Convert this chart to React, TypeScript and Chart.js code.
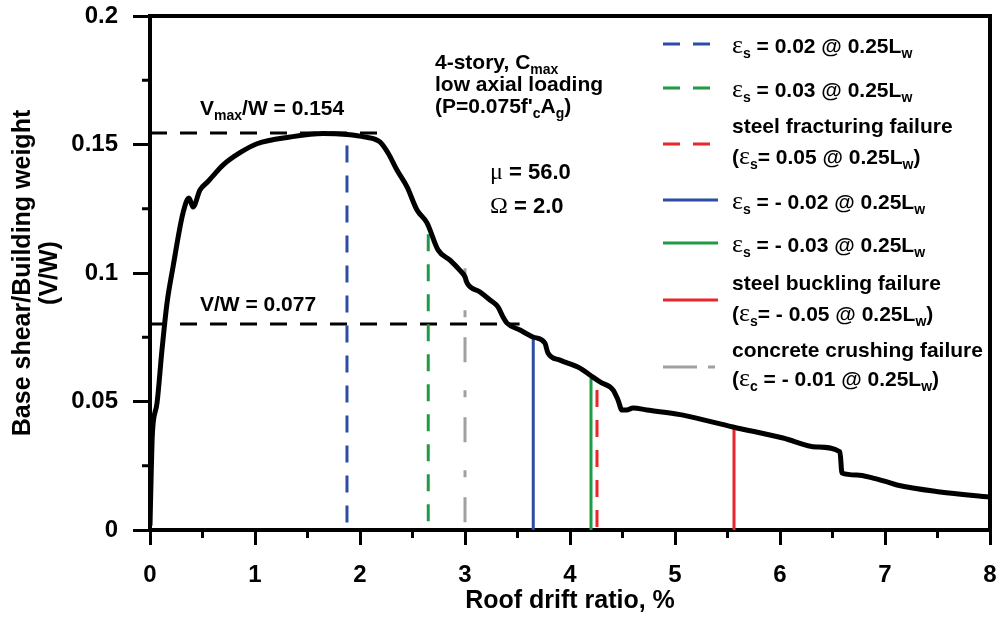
import React, { useEffect, useRef } from 'react';
import { Chart, registerables } from 'chart.js';

Chart.register(...registerables);

// ---------- data ----------
const driftRatio = [
  0, 0.01, 0.02, 0.03, 0.067, 0.114, 0.162, 0.219, 0.314, 0.371, 0.41, 0.476, 0.55, 0.6, 0.695,
  0.857, 1.019, 1.333, 1.648, 1.876, 2.048, 2.19, 2.267, 2.352, 2.448, 2.543, 2.638, 2.743, 2.857,
  2.952, 3.0, 3.02, 3.143, 3.238, 3.314, 3.362, 3.4, 3.524, 3.648, 3.76, 3.79, 3.905, 4.095, 4.19,
  4.286, 4.41, 4.457, 4.495, 4.54, 4.6, 4.733, 5.048, 5.076, 5.552, 6.029, 6.352, 6.571, 6.59, 6.733,
  6.886, 7.019, 7.114, 7.524, 8.0,
];
const shearRatio = [
  0.002, 0.0195, 0.035, 0.0416, 0.0494, 0.07, 0.0883, 0.1023, 0.1233, 0.1292, 0.1257, 0.1323, 0.1355,
  0.1378, 0.142, 0.1468, 0.1503, 0.1529, 0.1543, 0.1539, 0.1529, 0.151, 0.1467, 0.1401, 0.1335,
  0.1245, 0.1195, 0.109, 0.105, 0.101, 0.0985, 0.0961, 0.0926, 0.0895, 0.0868, 0.0829, 0.0805, 0.0778,
  0.0751, 0.0728, 0.0689, 0.0661, 0.063, 0.0603, 0.0576, 0.0545, 0.0506, 0.0467, 0.0467, 0.0475,
  0.0467, 0.0449, 0.0447, 0.0401, 0.0358, 0.0323, 0.0304, 0.0222, 0.0214, 0.0202, 0.0187, 0.0175,
  0.0148, 0.0128,
];

// limit-state markers (drift at which each strain limit is reached, and curve value there)
const limitNames = [
  'εs = 0.02 @ 0.25Lw',
  'εs = 0.03 @ 0.25Lw',
  'steel fracturing failure (εs= 0.05 @ 0.25Lw)',
  'εs = - 0.02 @ 0.25Lw',
  'εs = - 0.03 @ 0.25Lw',
  'steel buckling failure (εs= - 0.05 @ 0.25Lw)',
  'concrete crushing failure (εc = - 0.01 @ 0.25Lw)',
];
const limitDrift = [1.876, 2.65, 4.257, 3.65, 4.2, 5.562, 3.0];
const limitShear = [0.1535, 0.119, 0.0545, 0.0751, 0.0603, 0.0401, 0.1018];
const limitColors = ['#2d4ca3', '#1f9a45', '#e8262b', '#2d4ca3', '#1f9a45', '#e8262b', '#a0a0a0'];
const limitDashes: number[][] = [[17, 13], [17, 13], [17, 13], [], [], [], [25, 28, 7, 20]];
const limitDashOffsets = [20, 20, 0, 0, 0, 0, 11];

// horizontal reference lines (Vmax/W and 0.5 Vmax/W)
const refNames = ['Vmax/W = 0.154', 'V/W = 0.077'];
const refShear = [0.1545, 0.0802];
const refDriftEnd = [2.19, 3.52];

// ticks
const xMajorTicks = [0, 1, 2, 3, 4, 5, 6, 7, 8];
const xMinorTicks = [0.5, 1.5, 2.5, 3.5, 4.5, 5.5, 6.5, 7.5];
const yMajorTicks = [0, 0.05, 0.1, 0.15, 0.2];
const yMinorTicks = [0.025, 0.075, 0.125, 0.175];

// ---------- styling ----------
const SANS = '"Liberation Sans", Arial, Helvetica, sans-serif';
const SERIF = '"Liberation Serif", "Times New Roman", serif';

const frameAndMinorTicks = {
  id: 'frameAndMinorTicks',
  afterDraw(chart: any) {
    const { ctx, chartArea: a, scales } = chart;
    const x = scales.x;
    const y = scales.y;
    ctx.save();
    ctx.strokeStyle = '#000';
    ctx.lineWidth = 4;
    ctx.beginPath();
    ctx.moveTo(a.left - 2, a.top);
    ctx.lineTo(a.right, a.top);
    ctx.lineTo(a.right, a.bottom + 2);
    ctx.stroke();
    ctx.lineWidth = 3;
    ctx.beginPath();
    for (const v of xMinorTicks) {
      const px = x.getPixelForValue(v);
      ctx.moveTo(px, a.bottom);
      ctx.lineTo(px, a.bottom + 8);
    }
    for (const v of yMinorTicks) {
      const py = y.getPixelForValue(v);
      ctx.moveTo(a.left, py);
      ctx.lineTo(a.left - 8, py);
    }
    ctx.stroke();
    ctx.restore();
  },
};

const subStyle: React.CSSProperties = { fontSize: 14, verticalAlign: -5, lineHeight: 0 };

function Eps({ s }: { s: string }) {
  return (
    <>
      <span style={{ fontFamily: SERIF, fontWeight: 'normal', fontSize: 26 }}>ε</span>
      <sub style={subStyle}>{s}</sub>
    </>
  );
}

function T({ x, y, size = 21, children }: { x: number; y: number; size?: number; children: any }) {
  return (
    <div
      style={{
        position: 'absolute',
        left: x,
        top: y - 12,
        lineHeight: '24px',
        fontFamily: SANS,
        fontWeight: 'bold',
        fontSize: size,
        whiteSpace: 'nowrap',
        color: '#000',
      }}
    >
      {children}
    </div>
  );
}

const Lw = () => (
  <>
    0.25L<sub style={subStyle}>w</sub>
  </>
);

const legendRows = [
  { lineY: 44, dash: '17 13', x2: 712 },
  { lineY: 88, dash: '17 13', x2: 712 },
  { lineY: 144, dash: '17 13', x2: 712 },
  { lineY: 200, dash: '', x2: 718 },
  { lineY: 243, dash: '', x2: 718 },
  { lineY: 300, dash: '', x2: 718 },
  { lineY: 367, dash: '34 11 7 100', x2: 716 },
];

export default function App() {
  const canvasRef = useRef<HTMLCanvasElement | null>(null);

  useEffect(() => {
    const canvas = canvasRef.current;
    if (!canvas) return;
    const curve = driftRatio.map((d, i) => ({ x: d, y: shearRatio[i] }));
    const datasets: any[] = [
      {
        label: 'Pushover curve',
        data: curve,
        borderColor: '#000',
        borderWidth: 5,
        borderJoinStyle: 'round',
        borderCapStyle: 'round',
        pointRadius: 0,
        showLine: true,
        cubicInterpolationMode: 'monotone',
        order: 0,
      },
      ...limitDrift.map((d, i) => ({
        label: limitNames[i],
        data: [
          { x: d, y: limitShear[i] },
          { x: d, y: 0 },
        ],
        borderColor: limitColors[i],
        borderWidth: 3,
        borderDash: limitDashes[i],
        borderDashOffset: limitDashOffsets[i],
        pointRadius: 0,
        showLine: true,
        order: 1,
      })),
      ...refShear.map((v, i) => ({
        label: refNames[i],
        data: [
          { x: 0, y: v },
          { x: refDriftEnd[i], y: v },
        ],
        borderColor: '#000',
        borderWidth: 3,
        borderDash: [17, 13],
        pointRadius: 0,
        showLine: true,
        order: 2,
      })),
    ];

    const tickFont = { family: SANS, size: 24, weight: 'bold' as const };
    const chart = new Chart(canvas, {
      type: 'scatter',
      data: { datasets },
      options: {
        animation: false,
        responsive: false,
        devicePixelRatio: 1,
        layout: { padding: { left: 0, right: 14, top: 16, bottom: 0 } },
        plugins: { legend: { display: false }, tooltip: { enabled: false } },
        scales: {
          x: {
            type: 'linear',
            min: 0,
            max: 8,
            afterFit: (s: any) => {
              s.height = 88;
              s.paddingLeft = 0;
              s.paddingRight = 0;
            },
            afterBuildTicks: (s: any) => {
              s.ticks = xMajorTicks.map((v) => ({ value: v }));
            },
            ticks: {
              color: '#000',
              font: tickFont,
              padding: 16,
              maxRotation: 0,
              callback: (v: any) => String(v),
            },
            grid: {
              drawOnChartArea: false,
              drawTicks: true,
              tickLength: 15,
              tickWidth: 3,
              tickColor: '#000',
            },
            border: { display: true, color: '#000', width: 4 },
            title: {
              display: true,
              text: 'Roof drift ratio, %',
              color: '#000',
              font: { family: SANS, size: 25, weight: 'bold' },
              padding: { top: 0, bottom: 2 },
            },
          },
          y: {
            type: 'linear',
            min: 0,
            max: 0.2,
            afterFit: (s: any) => {
              s.width = 150;
              s.paddingTop = 0;
              s.paddingBottom = 0;
            },
            afterBuildTicks: (s: any) => {
              s.ticks = yMajorTicks.map((v) => ({ value: v }));
            },
            ticks: {
              color: '#000',
              font: tickFont,
              padding: 15,
              callback: (v: any) => String(Number(Number(v).toFixed(3))),
            },
            grid: {
              drawOnChartArea: false,
              drawTicks: true,
              tickLength: 17,
              tickWidth: 3,
              tickColor: '#000',
            },
            border: { display: true, color: '#000', width: 4 },
            title: {
              display: true,
              text: ['Base shear/Building weight', '(V/W)'],
              color: '#000',
              font: { family: SANS, size: 25, weight: 'bold', lineHeight: 1.1 },
              padding: { top: 9, bottom: 0 },
            },
          },
        },
      },
      plugins: [frameAndMinorTicks],
    });
    return () => chart.destroy();
  }, []);

  return (
    <div style={{ position: 'fixed', left: 0, top: 0, width: 1004, height: 618, background: '#fff' }}>
      <canvas ref={canvasRef} width={1004} height={618} style={{ position: 'absolute', left: 0, top: 0, display: 'block' }} />

      {/* reference line labels */}
      <T x={200} y={108}>
        V<sub style={subStyle}>max</sub>/W = 0.154
      </T>
      <T x={200} y={304}>V/W = 0.077</T>

      {/* test description */}
      <T x={435} y={62}>
        4-story, C<sub style={subStyle}>max</sub>
      </T>
      <T x={435} y={84}>low axial loading</T>
      <T x={435} y={106}>
        (P=0.075f'<sub style={subStyle}>c</sub>A<sub style={subStyle}>g</sub>)
      </T>
      <T x={490} y={171} size={22}>
        <span style={{ fontFamily: SERIF, fontWeight: 'normal', fontSize: 24 }}>μ</span> = 56.0
      </T>
      <T x={490} y={205} size={22}>
        <span style={{ fontFamily: SERIF, fontWeight: 'normal', fontSize: 24 }}>Ω</span> = 2.0
      </T>

      {/* legend */}
      <svg width={1004} height={618} style={{ position: 'absolute', left: 0, top: 0, pointerEvents: 'none' }}>
        {legendRows.map((r, i) => (
          <line
            key={i}
            x1={663}
            x2={r.x2}
            y1={r.lineY}
            y2={r.lineY}
            stroke={limitColors[i]}
            strokeWidth={3}
            strokeDasharray={r.dash || undefined}
          />
        ))}
      </svg>
      <T x={732} y={45}>
        <Eps s="s" /> = 0.02 @ <Lw />
      </T>
      <T x={732} y={89}>
        <Eps s="s" /> = 0.03 @ <Lw />
      </T>
      <T x={732} y={126}>steel fracturing failure</T>
      <T x={732} y={156}>
        (<Eps s="s" />= 0.05 @ <Lw />)
      </T>
      <T x={732} y={201}>
        <Eps s="s" /> = - 0.02 @ <Lw />
      </T>
      <T x={732} y={244}>
        <Eps s="s" /> = - 0.03 @ <Lw />
      </T>
      <T x={732} y={283}>steel buckling failure</T>
      <T x={732} y={313}>
        (<Eps s="s" />= - 0.05 @ <Lw />)
      </T>
      <T x={732} y={350}>concrete crushing failure</T>
      <T x={732} y={378}>
        (<Eps s="c" /> = - 0.01 @ <Lw />)
      </T>
    </div>
  );
}
